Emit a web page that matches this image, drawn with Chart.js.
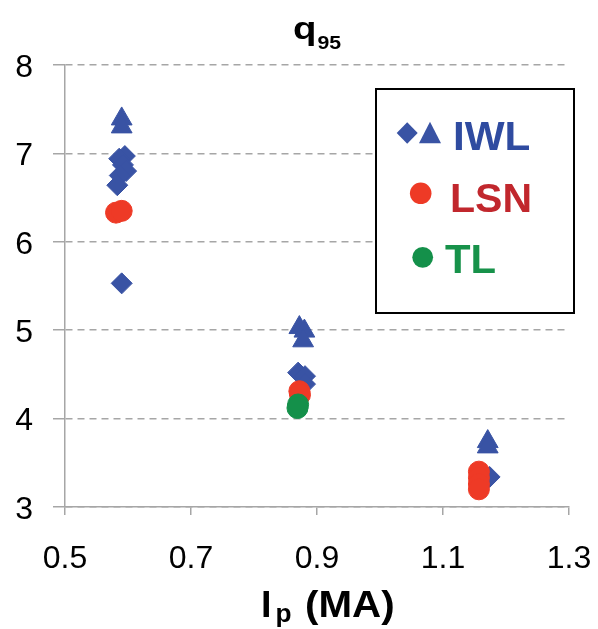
<!DOCTYPE html>
<html><head><meta charset="utf-8">
<script src="https://cdn.jsdelivr.net/npm/chart.js@4/dist/chart.umd.min.js"></script>
<style>html,body{margin:0;padding:0;background:#fff;}#wrap{width:598px;height:629px;position:relative;}</style>
</head><body><div id="wrap"><canvas id="c" width="598" height="629"></canvas></div>
<script>
// ---- data ----
const xTicks = [0.5, 0.7, 0.9, 1.1, 1.3];
const yTicks = [3, 4, 5, 6, 7, 8];

const iwlDiamondX = [0.595, 0.586, 0.592, 0.597, 0.587, 0.583, 0.590, 0.870, 0.881, 0.881, 1.174];
const iwlDiamondY = [6.97, 6.94, 6.87, 6.80, 6.75, 6.64, 5.53, 4.52, 4.48, 4.39, 3.34];

const iwlTriangleX = [0.590, 0.590, 0.872, 0.880, 0.878, 1.171, 1.171];
const iwlTriangleY = [7.39, 7.30, 5.03, 4.99, 4.88, 3.74, 3.68];

const lsnX = [0.581, 0.590, 0.872, 0.873, 1.157, 1.157, 1.157, 1.157];
const lsnY = [6.33, 6.35, 4.31, 4.27, 3.40, 3.33, 3.26, 3.20];

const tlX = [0.870, 0.869];
const tlY = [4.16, 4.12];

const legendLabels = ['IWL', 'LSN', 'TL'];
const titleMain = 'q', titleSub = '95';
const xTitleMain = 'I', xTitleSub = 'p', xTitleRest = '(MA)';

const BLUE = '#3953A4', RED = '#EE3A26', GREEN = '#14904A';
const BLUE_T = '#2F4BA0', RED_T = '#C1272D', GREEN_T = '#17924A';
const GRID = '#A6A6A6';
const FONT = "'Liberation Sans', Arial, sans-serif";

const zip = (xs, ys) => xs.map((x, i) => ({x: x, y: ys[i]}));

function txt(ctx, s, x, y, font, sx) {
  ctx.save();
  ctx.font = font;
  ctx.translate(x, y);
  ctx.scale(sx || 1, 1);
  ctx.fillText(s, 0, 0);
  ctx.restore();
}

const decor = {
  id: 'decor',
  afterDraw(chart) {
    const ctx = chart.ctx;
    ctx.save();
    // legend box
    ctx.fillStyle = '#fff';
    ctx.fillRect(376, 89, 198, 224);
    ctx.strokeStyle = '#000';
    ctx.lineWidth = 2;
    ctx.strokeRect(376, 89, 198, 224);
    // legend markers
    ctx.fillStyle = BLUE;
    ctx.beginPath();
    ctx.moveTo(396.7, 133); ctx.lineTo(407.2, 122.3); ctx.lineTo(417.7, 133); ctx.lineTo(407.2, 143.7);
    ctx.closePath(); ctx.fill();
    ctx.beginPath();
    ctx.moveTo(430, 121.7); ctx.lineTo(441, 143.3); ctx.lineTo(419, 143.3);
    ctx.closePath(); ctx.fill();
    ctx.fillStyle = RED;
    ctx.beginPath(); ctx.arc(420.7, 193.3, 10.8, 0, Math.PI * 2); ctx.fill();
    ctx.fillStyle = GREEN;
    ctx.beginPath(); ctx.arc(422.7, 257.3, 10.4, 0, Math.PI * 2); ctx.fill();
    // legend text
    ctx.textAlign = 'left';
    ctx.textBaseline = 'alphabetic';
    const lf = 'bold 41px ' + FONT;
    ctx.fillStyle = BLUE_T; txt(ctx, legendLabels[0], 453, 150, lf, 1.03);
    ctx.fillStyle = RED_T; txt(ctx, legendLabels[1], 450, 211.7, lf, 1.0);
    ctx.fillStyle = GREEN_T; txt(ctx, legendLabels[2], 445, 273.3, lf, 1.02);
    // chart title
    ctx.fillStyle = '#000';
    txt(ctx, titleMain, 293, 38.5, 'bold 32px ' + FONT, 1.2);
    txt(ctx, titleSub, 317.5, 49.3, 'bold 19px ' + FONT, 1.12);
    // x axis title
    txt(ctx, xTitleMain, 261, 616.7, 'bold 36px ' + FONT, 1.05);
    txt(ctx, xTitleSub, 275.5, 622, 'bold 25px ' + FONT, 1.05);
    txt(ctx, xTitleRest, 305, 616.7, 'bold 36px ' + FONT, 1.12);
    ctx.restore();
  }
};

new Chart(document.getElementById('c'), {
  type: 'scatter',
  data: {
    datasets: [
      {label: 'IWL', data: zip(iwlDiamondX, iwlDiamondY), pointStyle: 'rectRot', pointRadius: 10.5,
       backgroundColor: BLUE, borderColor: BLUE, borderWidth: 1, order: 4},
      {label: 'IWL', data: zip(iwlTriangleX, iwlTriangleY), pointStyle: 'triangle', pointRadius: 12,
       backgroundColor: BLUE, borderColor: BLUE, borderWidth: 1, order: 3},
      {label: 'LSN', data: zip(lsnX, lsnY), pointStyle: 'circle', pointRadius: 10.5,
       backgroundColor: RED, borderColor: RED, borderWidth: 1, order: 2},
      {label: 'TL', data: zip(tlX, tlY), pointStyle: 'circle', pointRadius: 10.5,
       backgroundColor: GREEN, borderColor: GREEN, borderWidth: 1, order: 1}
    ]
  },
  options: {
    responsive: false,
    devicePixelRatio: 1,
    animation: false,
    layout: {padding: {top: 65, right: 29, left: 0, bottom: 0}},
    plugins: {legend: {display: false}, tooltip: {enabled: false}, title: {display: false}},
    scales: {
      x: {
        type: 'linear', min: 0.5, max: 1.3,
        afterBuildTicks: s => { s.ticks = xTicks.map(v => ({value: v})); },
        afterFit: s => { s.height = 122; s.paddingLeft = 0; s.paddingRight = 0; },
        ticks: {callback: v => v.toFixed(1), color: '#000', font: {family: FONT, size: 32}, padding: 25,
                maxRotation: 0, autoSkip: false},
        grid: {drawOnChartArea: false, drawTicks: true, tickLength: 8, color: GRID, lineWidth: 1.5},
        border: {display: true, color: GRID, width: 1.5}
      },
      y: {
        type: 'linear', min: 3, max: 8,
        afterBuildTicks: s => { s.ticks = yTicks.map(v => ({value: v})); },
        afterFit: s => { s.width = 65; s.paddingTop = 0; s.paddingBottom = 0; },
        ticks: {color: '#000', font: {family: FONT, size: 32}, padding: 20, labelOffset: 3},
        grid: {color: GRID, lineWidth: 1.5, tickLength: 12, tickBorderDash: [], tickColor: GRID},
        border: {display: true, color: GRID, width: 1.5, dash: [7, 5]}
      }
    }
  },
  plugins: [decor]
});
</script>
</body></html>
